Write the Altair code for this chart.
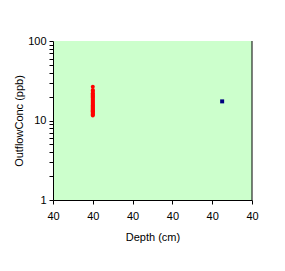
import altair as alt
import pandas as pd

red_depth = 40.0
red_conc = [11.6, 11.9, 12.2, 12.5, 12.8, 13.1, 13.5, 13.8, 14.2, 14.6, 15.0, 15.4,
            15.8, 16.2, 16.7, 17.2, 17.7, 18.2, 18.8, 19.4, 20.0, 20.6, 21.3, 22.0,
            22.8, 23.6, 24.2, 26.5]
blue_depth = [40.325]
blue_conc = [17.4]
x_ticks = [39.9, 40.0, 40.1, 40.2, 40.3, 40.4]
y_ticks = [1, 2, 3, 4, 5, 6, 7, 8, 9, 10, 20, 30, 40, 50, 60, 70, 80, 90, 100]

red_df = pd.DataFrame({"depth": [red_depth] * len(red_conc), "conc": red_conc, "s": "a"})
blue_df = pd.DataFrame({"depth": blue_depth, "conc": blue_conc, "s": "b"})
df = pd.concat([red_df, blue_df], ignore_index=True)

FONT = "Liberation Sans"

xenc = alt.X("depth:Q", scale=alt.Scale(domain=[39.9, 40.4], nice=False, zero=False),
             axis=alt.Axis(title="Depth (cm)", values=x_ticks,
                           labelExpr="'40'",
                           grid=False, tickSize=4, domainColor="black", tickColor="black",
                           labelColor="black", titleColor="black", labelFont=FONT, titleFont=FONT,
                           labelFontSize=11, titleFontSize=11, titleFontWeight="normal",
                           labelPadding=6, titlePadding=10, labelFlush=False, labelOverlap=False))
yenc = alt.Y("conc:Q", scale=alt.Scale(type="log", domain=[1, 100], nice=False),
             axis=alt.Axis(title="OutflowConc (ppb)", values=y_ticks,
                           labelExpr="(datum.value == 1 || datum.value == 10 || datum.value == 100) ? datum.label : ''",
                           format="d", grid=False, tickSize=4, domainColor="black", tickColor="black",
                           labelColor="black", titleColor="black", labelFont=FONT, titleFont=FONT,
                           labelFontSize=11, titleFontSize=11, titleFontWeight="normal",
                           labelPadding=3, titlePadding=3, labelFlush=False, labelOverlap=False))

base = alt.Chart(df).encode(x=xenc, y=yenc)
red = base.transform_filter("datum.s == 'a'").mark_circle(size=16, color="#ff0000", opacity=1)
blue = base.transform_filter("datum.s == 'b'").mark_square(size=16, color="#000080", opacity=1)
right = alt.Chart(blue_df).mark_rule(color="black", strokeWidth=1).encode(
    x=alt.value(199), y=alt.value(0), y2=alt.value(159))

chart = alt.layer(red, blue, right).properties(
    width=199, height=159,
    background="white",
    autosize=alt.AutoSizeParams(type="none"),
    padding={"left": 53, "top": 41, "right": 33, "bottom": 71},
).configure_view(fill="#ccffcc", stroke=None)

chart.save("out.html", embed_options={"renderer": "svg", "actions": False})
